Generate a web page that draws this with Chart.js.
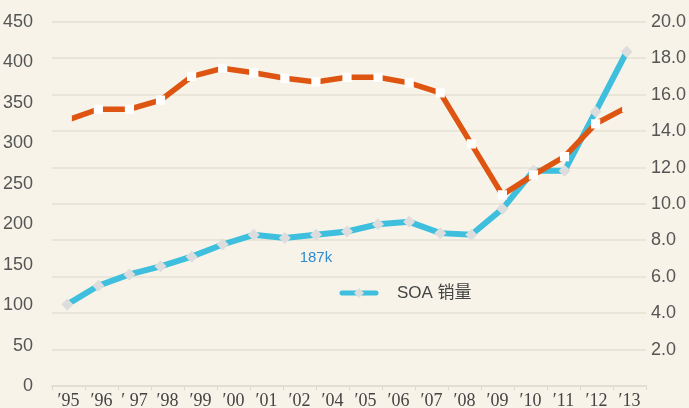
<!DOCTYPE html>
<html><head><meta charset="utf-8">
<script src="https://cdn.jsdelivr.net/npm/chart.js@4"></script>
<style>html,body{margin:0;padding:0;background:#f7f3e8;} canvas{display:block}</style>
</head><body>
<canvas id="c" width="689" height="408"></canvas>
<script>
// ---- data ----
const years = ['1995','1996','1997','1998','1999','2000','2001','2002','2003','2004','2005','2006','2007','2008','2009','2010','2011','2012','2013'];
const tickLabels = ['′95','′96','′ 97','′98','′99','′00','′01','′02','′04','′05','′06','′07','′08','′09','′10','′11','′12','′13'];
const soaSales = [101,124,138,148,160,175,187,183,187,191,200,203,189,187,219,266,266,339,413];
const secondSeries = [14.6,15.2,15.2,15.7,17.0,17.45,17.2,16.9,16.7,16.95,16.95,16.65,16.1,13.3,10.5,11.6,12.6,14.4,15.3];
const leftTicks = {min:0, max:450, step:50};
const rightTicks = {min:0, max:20, step:2};
const legendLabel = 'SOA 销量';
const calloutLabel = '187k';
const calloutIndex = 8;

const BG = '#f7f3e8', BLUE = '#3dbfdd', ORANGE = '#de5512';

const overlay = {
  id:'overlay',
  afterDraw(chart){
    const c = chart.ctx, xs = chart.scales.xd, ys = chart.scales.y;
    c.save();
    c.font = '15px "Liberation Sans"';
    c.fillStyle = '#2e8bcf';
    c.textAlign = 'center';
    c.textBaseline = 'middle';
    c.fillText(calloutLabel, xs.getPixelForValue(calloutIndex), ys.getPixelForValue(soaSales[calloutIndex]) + 23);
    // legend
    const lx = 342, ly = 293;
    c.strokeStyle = BLUE; c.lineWidth = 5; c.lineCap = 'round';
    c.beginPath(); c.moveTo(lx, ly); c.lineTo(lx + 34, ly); c.stroke();
    c.fillStyle = '#dddddd';
    c.beginPath(); c.moveTo(lx+17, ly-5); c.lineTo(lx+22, ly); c.lineTo(lx+17, ly+5); c.lineTo(lx+12, ly); c.closePath(); c.fill();
    c.font = '17px "Liberation Sans", "Noto Sans CJK SC"';
    c.fillStyle = '#444444';
    c.textAlign = 'left';
    c.fillText(legendLabel, 397, ly);
    c.restore();
  }
};

new Chart(document.getElementById('c'), {
  type:'line',
  data:{
    labels: tickLabels,
    datasets:[
      {
        label:'series2',
        data: years.map((y,i)=>({x:i, y:secondSeries[i]})),
        xAxisID:'xd', yAxisID:'y2',
        borderColor: ORANGE, borderWidth:5.5, tension:0, fill:false,
        pointStyle:'rect', pointRadius:6.5, pointBorderWidth:0,
        pointBackgroundColor: ctx => (ctx.dataIndex===0 || ctx.dataIndex===years.length-1) ? BG : '#ffffff'
      },
      {
        label: legendLabel,
        data: years.map((y,i)=>({x:i, y:soaSales[i]})),
        xAxisID:'xd', yAxisID:'y',
        borderColor: BLUE, borderWidth:6, tension:0, fill:false,
        pointStyle:'rectRot', pointRadius:6, pointBorderWidth:0,
        pointBackgroundColor:'#dddddd'
      }
    ]
  },
  options:{
    responsive:false, animation:false,
    layout:{padding:{top:19,left:0,right:0,bottom:0}},
    plugins:{legend:{display:false}, tooltip:{enabled:false}},
    scales:{
      x:{
        type:'category', position:'bottom', offset:true,
        grid:{offset:true, drawOnChartArea:false, tickLength:4, color:'#dcd8cc', lineWidth:1},
        border:{color:'#e2ded2', width:2},
        ticks:{font:{family:'Liberation Serif', size:18}, color:'#444444', padding:0, maxRotation:0, autoSkip:false},
        afterFit(s){ s.height = 21; }
      },
      xd:{type:'linear', display:false, min:-0.492, max:18.621},
      y:{
        position:'left', min:leftTicks.min, max:leftTicks.max,
        ticks:{stepSize:leftTicks.step, font:{family:'Liberation Sans', size:18}, color:'#555555', padding:11},
        grid:{display:false}, border:{display:false},
        afterFit(s){ s.width = 52; }
      },
      y2:{
        position:'right', min:rightTicks.min, max:rightTicks.max,
        ticks:{stepSize:rightTicks.step, font:{family:'Liberation Sans', size:18}, color:'#555555', padding:5,
          callback: v => v === 0 ? '' : Number(v).toFixed(1)},
        grid:{color:'#e9e5d9', lineWidth:2, drawTicks:false},
        border:{display:false},
        afterFit(s){ s.width = 43; }
      }
    }
  },
  plugins:[overlay]
});
</script>
</body></html>
